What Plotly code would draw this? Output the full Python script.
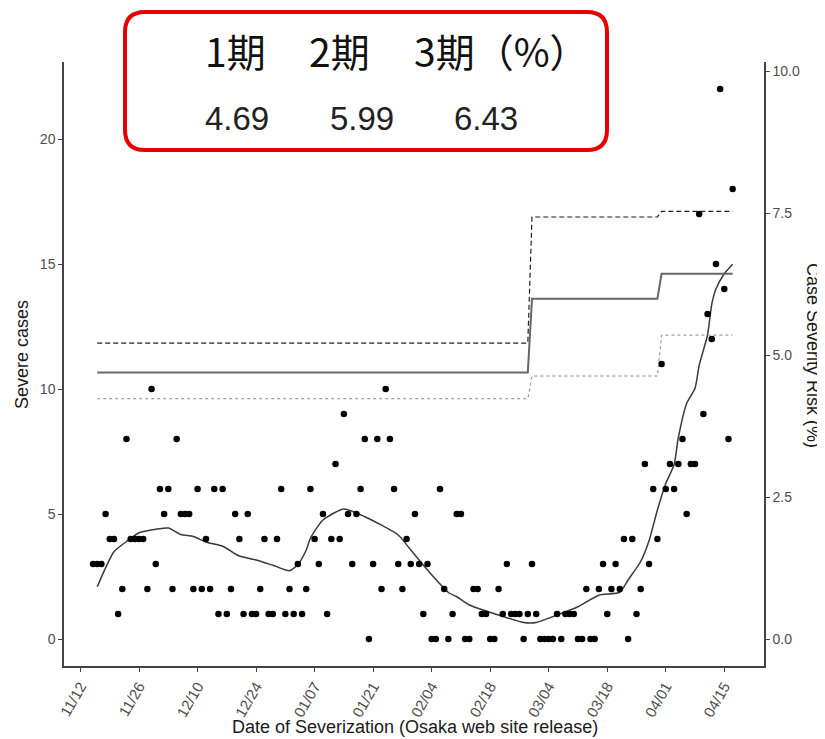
import pandas as pd
import plotly.graph_objects as go

# ---------------- data ----------------
base_date = pd.Timestamp("2020-11-12")
first_case_date = "2020-11-15"

severe_cases = [
    3, 3, 3, 5, 4, 4, 1, 2, 8, 4, 4, 4, 4, 2, 10, 3, 6, 5, 6, 2, 8, 5, 5, 5, 2, 6, 2, 4, 2,   # 11/15 - 12/13
    6, 1, 6, 1, 2, 5, 4, 1, 5, 1, 1, 2,                                                       # 12/14 - 12/25
    4, 1, 1, 4, 6, 1, 2, 1, 3, 1, 2, 6, 4, 3, 5, 1, 4, 7, 4, 9, 5, 3, 5, 6, 8, 0, 3, 8, 2, 10,  # 12/26 - 01/24
    8, 6, 3, 2, 4, 3, 5, 3, 1, 3,                                                             # 01/25 - 02/03
    0, 0, 6, 2, 0, 1, 5, 5, 0, 0, 2, 2, 1, 1, 0, 0,                                           # 02/04 - 02/19
    2, 1, 3, 1, 1, 1, 0, 1, 3, 1, 0, 0, 0, 0, 1, 0, 1, 1, 1, 0, 0, 2, 0, 0,                   # 02/20 - 03/15
    2, 3, 1, 2, 3, 2, 4, 0, 4, 1, 2, 7, 3, 6, 4,                                              # 03/16 - 03/30
    11, 6, 7, 6, 7, 8, 5, 7, 7, 17, 9, 13, 12, 15, 22, 14, 8, 18,                             # 03/31 - 04/17
]

# smoothed trend (severe cases), sampled at day offsets from 11/12
curve_day_offset = [4, 8, 11, 14, 18, 21, 24, 27, 30, 34, 38, 42, 46, 50, 52, 54, 55, 58, 63,
                    68, 76, 79, 83, 86, 88, 90, 93, 100, 106, 109, 114, 119, 124, 129, 131, 134,
                    136, 138, 140, 142, 143, 145, 147, 148, 150, 151, 152, 154, 156]
curve_values = [2.09, 3.49, 3.9, 4.25, 4.39, 4.44, 4.18, 4.1, 3.88, 3.71, 3.32, 3.16, 2.95, 2.73,
                2.98, 3.56, 4.03, 4.76, 5.2, 4.89, 4.16, 3.56, 2.76, 2.2, 1.86, 1.69, 1.36, 0.96,
                0.66, 0.66, 0.96, 1.29, 1.75, 1.87, 2.36, 3.1, 3.93, 5.16, 6.22, 6.98, 8.05,
                9.42, 10.03, 10.95, 12.17, 13.39, 14.0, 14.61, 14.99]

# case severity risk (%) per period
period_labels = ["1期", "2期", "3期（%）"]
period_start_day = [4, 108, 139]
period_end_day = [107, 138, 156]
risk_estimate = [4.69, 5.99, 6.43]
risk_upper = [5.21, 7.43, 7.53]
risk_lower = [4.23, 4.63, 5.35]

tick_labels = ["11/12", "11/26", "12/10", "12/24", "01/07", "01/21", "02/04",
               "02/18", "03/04", "03/18", "04/01", "04/15"]
left_ticks = [0, 5, 10, 15, 20]
right_ticks = [0.0, 2.5, 5.0, 7.5, 10.0]

# ---------------- build ----------------
case_dates = pd.date_range(first_case_date, periods=len(severe_cases), freq="D")
curve_dates = [base_date + pd.Timedelta(days=d) for d in curve_day_offset]
tick_dates = [base_date + pd.Timedelta(days=14 * i) for i in range(len(tick_labels))]


def step_xy(values):
    xs, ys = [], []
    for s, e, v in zip(period_start_day, period_end_day, values):
        xs += [base_date + pd.Timedelta(days=s), base_date + pd.Timedelta(days=e)]
        ys += [v, v]
    return xs, ys


fig = go.Figure()

xs, ys = step_xy(risk_upper)
fig.add_trace(go.Scatter(x=xs, y=ys, mode="lines", yaxis="y2",
                         line=dict(color="#222222", width=1.2, dash="5px,3px"), showlegend=False))
xs, ys = step_xy(risk_lower)
fig.add_trace(go.Scatter(x=xs, y=ys, mode="lines", yaxis="y2",
                         line=dict(color="#888888", width=1, dash="dot"), showlegend=False))
xs, ys = step_xy(risk_estimate)
fig.add_trace(go.Scatter(x=xs, y=ys, mode="lines", yaxis="y2",
                         line=dict(color="#666666", width=2), showlegend=False))

fig.add_trace(go.Scatter(x=curve_dates, y=curve_values, mode="lines",
                         line=dict(color="#3a3a3a", width=1.5, shape="spline", smoothing=0.6),
                         showlegend=False))
fig.add_trace(go.Scatter(x=case_dates, y=severe_cases, mode="markers",
                         marker=dict(color="black", size=6.5), showlegend=False))

# plot area in page pixels: x 64..764, y 62..666 (page has an 8px body offset)
OFF = 8
L, R, T, B = 64, 764, 62, 666
W, H = R - L, B - T
FW, FH = 825, 739


def px(x):
    return (x - L) / W


def py(y):
    return (B - y) / H


axis_font = dict(family="Liberation Sans, Arial, sans-serif", size=14, color="#4d4d4d")
xtick_font = dict(family="Liberation Sans, Arial, sans-serif", size=15, color="#4d4d4d")

fig.update_layout(
    width=FW, height=FH,
    margin=dict(l=L - OFF, r=FW - (R - OFF), t=T - OFF, b=FH - (B - OFF), pad=0),
    paper_bgcolor="white", plot_bgcolor="white",
    font=dict(family="Liberation Sans, Arial, sans-serif"),
    xaxis=dict(
        type="date",
        range=[base_date - pd.Timedelta(days=3.95), base_date + pd.Timedelta(days=163.5)],
        tickvals=tick_dates, ticktext=tick_labels, tickangle=-60,
        showline=True, linecolor="#444444", linewidth=1.5,
        ticks="outside", ticklen=4, tickcolor="#444444", tickwidth=1,
        showgrid=False, zeroline=False, tickfont=xtick_font,
    ),
    yaxis=dict(
        range=[-(B - 639) / 25, (639 - T) / 25],
        tickvals=left_ticks,
        showline=True, linecolor="#444444", linewidth=1.5,
        ticks="outside", ticklen=4, tickcolor="#444444", tickwidth=1,
        showgrid=False, zeroline=False, tickfont=axis_font,
    ),
    yaxis2=dict(
        overlaying="y", side="right", anchor="x",
        range=[-(B - 639) / 56.8, (639 - T) / 56.8],
        tickvals=right_ticks, tickformat=".1f",
        showline=True, linecolor="#444444", linewidth=1.5,
        ticks="outside", ticklen=4, tickcolor="#444444", tickwidth=1,
        showgrid=False, zeroline=False, tickfont=axis_font,
    ),
)

title_font = dict(family="Liberation Sans, Arial, sans-serif", size=18, color="#1a1a1a")
fig.add_annotation(x=px(22), y=py(355), xref="paper", yref="paper", text="Severe cases",
                   textangle=-90, showarrow=False, font=title_font, xanchor="center", yanchor="middle")
fig.add_annotation(x=px(813), y=py(355), xref="paper", yref="paper", text="Case Severity Risk (%)",
                   textangle=90, showarrow=False, font=title_font, xanchor="center", yanchor="middle")
fig.add_annotation(x=px(415), y=py(727), xref="paper", yref="paper",
                   text="Date of Severization (Osaka web site release)",
                   showarrow=False, font=title_font, xanchor="center", yanchor="middle")

# red rounded box
bx0, bx1, by0, by1, rad = px(125), px(607), py(150), py(12), 20
rx, ry = rad / W, rad / H
path = (f"M {bx0+rx},{by1} L {bx1-rx},{by1} Q {bx1},{by1} {bx1},{by1-ry} "
        f"L {bx1},{by0+ry} Q {bx1},{by0} {bx1-rx},{by0} "
        f"L {bx0+rx},{by0} Q {bx0},{by0} {bx0},{by0+ry} "
        f"L {bx0},{by1-ry} Q {bx0},{by1} {bx0+rx},{by1} Z")
fig.add_shape(type="path", path=path, xref="paper", yref="paper",
              line=dict(color="#e60000", width=4), fillcolor="rgba(0,0,0,0)")

label_x = [203, 307, 412]
value_x = [203, 328, 452]
label_font = dict(family="Noto Sans CJK JP, sans-serif", size=39, color="#111111")
value_font = dict(family="Liberation Sans, Arial, sans-serif", size=33, color="#222222")
for lab, lx in zip(period_labels, label_x):
    fig.add_annotation(x=px(lx), y=py(50), xref="paper", yref="paper", text=lab, showarrow=False,
                       font=label_font, xanchor="left", yanchor="middle")
for val, vx in zip(risk_estimate, value_x):
    fig.add_annotation(x=px(vx), y=py(118), xref="paper", yref="paper", text=f"{val:.2f}",
                       showarrow=False, font=value_font, xanchor="left", yanchor="middle")

fig.write_html("out.html")
